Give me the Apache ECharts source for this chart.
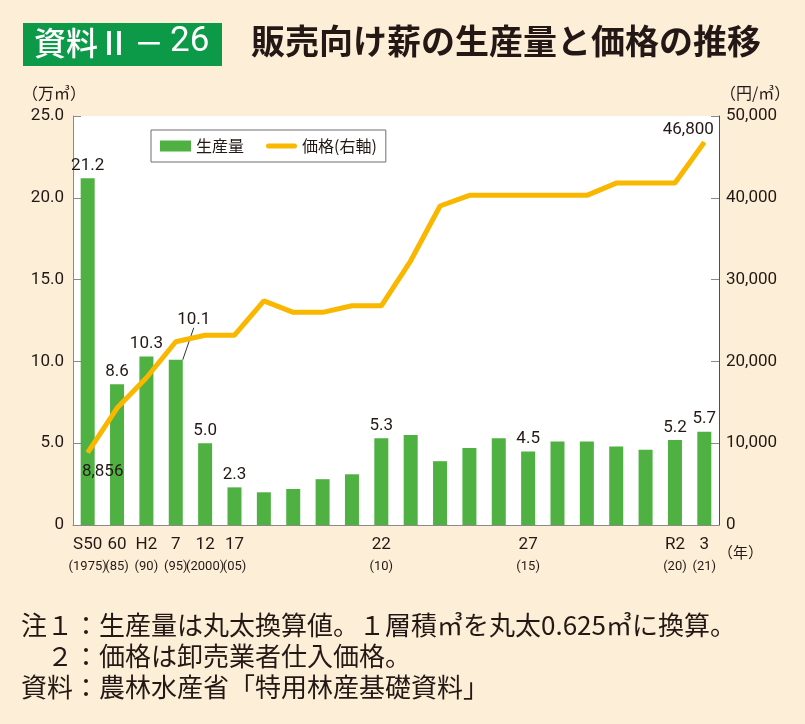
<!DOCTYPE html>
<html><head><meta charset="utf-8">
<script src="https://cdn.jsdelivr.net/npm/echarts@6/dist/echarts.min.js"></script>
<style>html,body{margin:0;padding:0;background:#fdefd7}#c{width:805px;height:724px}</style>
</head><body><div id="c"></div>
<script>
// ---- data ----
const categories = ['S50','60','H2','7','12','17','18','19','20','21','22','23','24','25','26','27','28','29','30','R1','R2','3'];
const xLabelTop = ['S50','60','H2','7','12','17','','','','','22','','','','','27','','','','','R2','3'];
const xLabelBottom = ['(1975)','(85)','(90)','(95)','(2000)','(05)','','','','','(10)','','','','','(15)','','','','','(20)','(21)'];
const production = [21.2, 8.6, 10.3, 10.1, 5.0, 2.3, 2.0, 2.2, 2.8, 3.1, 5.3, 5.5, 3.9, 4.7, 5.3, 4.5, 5.1, 5.1, 4.8, 4.6, 5.2, 5.7];
const price = [8856, 14300, 18000, 22400, 23200, 23200, 27400, 26000, 26000, 26800, 26800, 32300, 39000, 40300, 40300, 40300, 40300, 40300, 41800, 41800, 41800, 46800];
const labeledBars = [0, 1, 2, 3, 4, 5, 10, 15, 20, 21];
const leaderBar = 3;
const labeledPrices = [0, 21];
const seriesNames = ['生産量', '価格(右軸)'];
const leftAxisRange = [0, 25, 5];
const rightAxisRange = [0, 50000, 10000];

const NUM = "Roboto, sans-serif";
const JP = "'Noto Sans CJK JP', sans-serif";
const INK = '#231815';
const GREEN = '#4fb142';
const GOLD = '#f9b700';

const barData = production.map((v, i) => labeledBars.includes(i)
  ? { value: v, label: { show: true }, labelLine: { show: i === leaderBar } }
  : v);
const lineData = price.map((v, i) => {
  if (!labeledPrices.includes(i)) return v;
  const first = i === 0;
  return {
    value: v, symbol: 'circle', symbolSize: 1,
    label: { show: true, position: first ? 'bottom' : 'top', offset: first ? [15, 5] : [-16, 2] }
  };
});

const chart = echarts.init(document.getElementById('c'));
chart.setOption({
  backgroundColor: '#fdefd7',
  animation: false,
  grid: { left: 73, right: 86, top: 116, bottom: 199, show: true, backgroundColor: '#ffffff', borderWidth: 0 },
  legend: {
    left: 151, top: 130,
    data: [
      { name: seriesNames[0], icon: 'rect' },
      { name: seriesNames[1], icon: 'path://M5,0H57A5,5 0 0 1 57,10H5A5,5 0 0 1 5,0Z', itemStyle: { color: GOLD } }
    ],
    symbolKeepAspect: true,
    itemWidth: 31, itemHeight: 11, itemGap: 22,
    padding: [8, 9, 8, 9],
    borderColor: '#6f6f6f', borderWidth: 1, backgroundColor: '#ffffff',
    textStyle: { fontFamily: JP, fontSize: 16, color: INK }
  },
  xAxis: {
    type: 'category', data: categories, boundaryGap: true,
    axisLine: { lineStyle: { color: '#8a8a8a', width: 1 } },
    axisTick: { inside: true, length: 8, interval: 0, lineStyle: { color: '#8a8a8a' } },
    axisLabel: {
      interval: 0, margin: 9,
      formatter: (v, i) => xLabelTop[i] ? `{a|${xLabelTop[i]}}\n{b|${xLabelBottom[i]}}` : '',
      rich: {
        a: { fontFamily: NUM, fontSize: 17, color: INK, lineHeight: 22 },
        b: { fontFamily: NUM, fontSize: 13, color: INK, lineHeight: 22 }
      }
    }
  },
  yAxis: [{
    type: 'value', min: leftAxisRange[0], max: leftAxisRange[1], interval: leftAxisRange[2],
    axisLine: { show: true, lineStyle: { color: '#8a8a8a' } },
    axisTick: { show: true, inside: true, length: 8, lineStyle: { color: '#8a8a8a' } },
    splitLine: { show: false },
    axisLabel: { formatter: v => v === 0 ? '0' : v.toFixed(1), fontFamily: NUM, fontSize: 17, color: INK, margin: 9 }
  }, {
    type: 'value', position: 'right', min: rightAxisRange[0], max: rightAxisRange[1], interval: rightAxisRange[2],
    axisLine: { show: true, lineStyle: { color: '#5b4b44' } },
    axisTick: { show: true, inside: true, length: 8, lineStyle: { color: '#8a8a8a' } },
    splitLine: { show: false },
    axisLabel: { formatter: v => v.toLocaleString('en-US'), fontFamily: NUM, fontSize: 17, color: INK, margin: 7 }
  }],
  series: [{
    name: seriesNames[0], type: 'bar', yAxisIndex: 0, data: barData, barWidth: 14,
    itemStyle: { color: GREEN },
    label: { show: false, position: 'top', distance: 4, formatter: p => p.value.toFixed(1),
      fontFamily: NUM, fontSize: 17, color: INK },
    labelLayout: p => p.dataIndex === leaderBar ? { dx: 18, dy: -28 } : {},
    labelLine: { show: false, lineStyle: { color: '#333', width: 1 } }
  }, {
    name: seriesNames[1], type: 'line', yAxisIndex: 1, data: lineData, symbol: 'none', z: 5,
    lineStyle: { color: GOLD, width: 5 }, itemStyle: { color: GOLD },
    label: { fontFamily: NUM, fontSize: 17, color: INK, formatter: p => p.value.toLocaleString('en-US') }
  }],
  graphic: [
    { type: 'rect', left: 23, top: 23, shape: { width: 199, height: 43 }, style: { fill: '#0d9a48' } },
    { type: 'text', left: 34, top: 25, style: {
      text: '{a|資料Ⅱ}{d|－}{c|26}',
      rich: {
        a: { fontFamily: JP, fontWeight: 500, fontSize: 32, fill: '#ffffff', lineHeight: 38 },
        d: { fontFamily: JP, fontWeight: 500, fontSize: 30, fill: '#ffffff', padding: [0, 6, 0, 4], lineHeight: 38 },
        c: { fontFamily: NUM, fontWeight: 'normal', fontSize: 35, fill: '#ffffff', lineHeight: 38 }
      } } },
    { type: 'text', left: 251, top: 24, style: { text: '販売向け薪の生産量と価格の推移', fontFamily: JP, fontWeight: 'bold', fontSize: 34, fill: INK } },
    { type: 'text', left: 22, top: 85, style: { text: '（万㎥）', fontFamily: JP, fontSize: 16, fill: INK } },
    { type: 'text', left: 720, top: 85, style: { text: '（円/㎥）', fontFamily: JP, fontSize: 16, fill: INK } },
    { type: 'text', left: 718, top: 545, style: { text: '（年）', fontFamily: JP, fontSize: 15, fill: INK } },
    { type: 'text', left: 21, top: 610, style: { text: '注１：生産量は丸太換算値。１層積㎥を丸太0.625㎥に換算。\n　２：価格は卸売業者仕入価格。\n資料：農林水産省「特用林産基礎資料」', fontFamily: JP, fontSize: 26, lineHeight: 31, fill: INK } }
  ]
});
</script></body></html>
